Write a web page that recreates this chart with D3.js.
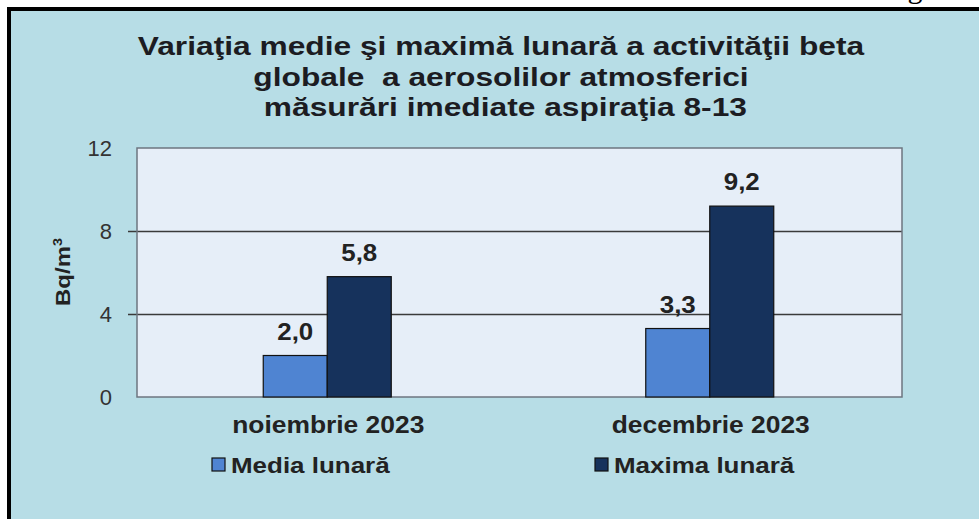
<!DOCTYPE html>
<html>
<head>
<meta charset="utf-8">
<script src="https://cdn.jsdelivr.net/npm/d3@7"></script>
<style>
  body { margin: 0; background: #fff; }
  svg { display: block; font-family: "Liberation Sans", Arial, sans-serif; }
</style>
</head>
<body>
<svg id="chart" width="979" height="519"></svg>
<script>
var titleLines = ["Variaţia medie şi maximă lunară a activităţii beta",
  "globale  a aerosolilor atmosferici",
  " măsurări imediate aspiraţia 8-13"];
var categories = ["noiembrie 2023", "decembrie 2023"];
var seriesNames = ["Media lunară", "Maxima lunară"];
var mediaValues = [2.0, 3.3];
var maximaValues = [5.8, 9.2];
var yTicks = [0, 4, 8, 12];

var colors = ["#4f84d2", "#16325c"];

var svg = d3.select("#chart"),
  margin = {top: 148, right: 77, bottom: 122, left: 137},
  width = +svg.attr("width") - margin.left - margin.right,
  height = +svg.attr("height") - margin.top - margin.bottom;

// frame (the picture is a cropped scan, so a bit of outside text shows on top)
svg.append("rect")
  .attr("x", 9).attr("y", 9).attr("width", 980).attr("height", 520)
  .attr("fill", "#b7dde6")
  .attr("stroke", "#000").attr("stroke-width", 4);
svg.append("text")
  .attr("x", 915).attr("y", -2)
  .attr("text-anchor", "middle")
  .attr("font-family", "Liberation Serif, serif")
  .attr("font-size", 30)
  .text("g");

// title, text in the scan is a little wider than Arial so stretch it
svg.append("g").selectAll("text")
  .data(titleLines)
  .enter().append("text")
  .attr("transform", function(d, i) { return "translate(501," + (55 + i * 30.5) + ") scale(1.22,1)"; })
  .attr("text-anchor", "middle")
  .attr("font-weight", "bold")
  .attr("font-size", 26)
  .attr("fill", "#1c1c22")
  .style("white-space", "pre")
  .text(function(d) { return d; });

var data = categories.map(function(c, i) {
  return {cat: c, values: [mediaValues[i], maximaValues[i]]};
});

var x0 = d3.scaleBand().domain(categories).range([0, width]);
var x1 = d3.scaleBand().domain(seriesNames).range([0, 128]);
var y = d3.scaleLinear().domain([0, 12]).range([height, 0]);

var focus = svg.append("g")
  .attr("transform", "translate(" + margin.left + "," + margin.top + ")");

focus.append("rect")
  .attr("width", width).attr("height", height)
  .attr("fill", "#e6eef8");

// gridlines + y axis
var yAxis = d3.axisLeft(y).tickValues(yTicks).tickSize(0).tickPadding(25);
var gy = focus.append("g").call(yAxis);
gy.select(".domain").remove();
gy.selectAll("text")
  .attr("font-size", 22)
  .attr("font-family", "Liberation Sans, Arial, sans-serif")
  .attr("fill", "#333");
gy.selectAll(".tick").filter(function(d) { return d > 0 && d < 12; })
  .append("line")
  .attr("x1", -9).attr("x2", width)
  .attr("stroke", "#3a3a3a").attr("stroke-width", 1.3);

focus.append("rect")
  .attr("width", width).attr("height", height)
  .attr("fill", "none")
  .attr("stroke", "#6e7580").attr("stroke-width", 1.5);

// bars
var groups = focus.selectAll(".grp")
  .data(data)
  .enter().append("g")
  .attr("class", "grp")
  .attr("transform", function(d) { return "translate(" + (x0(d.cat) + x0.bandwidth() / 2 - 65) + ",0)"; });

groups.selectAll("rect")
  .data(function(d) { return d.values.map(function(v, i) { return {name: seriesNames[i], value: v, i: i}; }); })
  .enter().append("rect")
  .attr("x", function(d) { return x1(d.name); })
  .attr("y", function(d) { return y(d.value); })
  .attr("width", x1.bandwidth())
  .attr("height", function(d) { return height - y(d.value); })
  .attr("fill", function(d) { return colors[d.i]; })
  .attr("stroke", "#111")
  .attr("stroke-width", 1.2);

groups.selectAll(".lbl")
  .data(function(d) { return d.values.map(function(v, i) { return {name: seriesNames[i], value: v}; }); })
  .enter().append("text")
  .attr("class", "lbl")
  .attr("transform", function(d) {
    return "translate(" + (x1(d.name) + x1.bandwidth() / 2) + "," + (y(d.value) - 16) + ") scale(1.08,1)";
  })
  .attr("text-anchor", "middle")
  .attr("font-weight", "bold")
  .attr("font-size", 24)
  .attr("fill", "#222")
  .text(function(d) { return d3.format(".1f")(d.value).replace(".", ","); });

// x axis labels
var xAxis = d3.axisBottom(x0).tickSize(0).tickPadding(19);
var gx = focus.append("g")
  .attr("transform", "translate(0," + height + ")")
  .call(xAxis);
gx.select(".domain").remove();
gx.selectAll("text")
  .attr("font-size", 24)
  .attr("font-weight", "bold")
  .attr("font-family", "Liberation Sans, Arial, sans-serif")
  .attr("fill", "#222")
  .attr("transform", "scale(1.1,1)");

// y label
svg.append("text")
  .attr("transform", "translate(70,272) rotate(-90) scale(1.2,1)")
  .attr("text-anchor", "middle")
  .attr("font-weight", "bold")
  .attr("font-size", 20)
  .attr("fill", "#222")
  .html('Bq/m<tspan dy="-8" font-size="12">3</tspan>');

// legend
var legendX = [212, 595];
var legend = svg.append("g").selectAll("g")
  .data(seriesNames)
  .enter().append("g")
  .attr("transform", function(d, i) { return "translate(" + legendX[i] + ",458)"; });
legend.append("rect")
  .attr("width", 13).attr("height", 13)
  .attr("fill", function(d, i) { return colors[i]; })
  .attr("stroke", "#111").attr("stroke-width", 1.2);
legend.append("text")
  .attr("transform", "translate(19,15) scale(1.18,1)")
  .attr("font-weight", "bold")
  .attr("font-size", 22)
  .attr("fill", "#222")
  .text(function(d) { return d; });
</script>
</body>
</html>
